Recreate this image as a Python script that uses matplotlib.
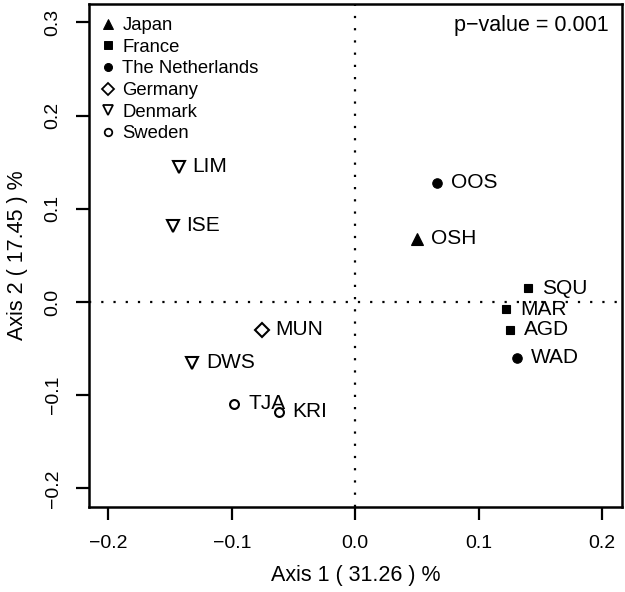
import matplotlib
matplotlib.use('Agg')
import matplotlib.pyplot as plt

plt.rcParams['font.family'] = ['Liberation Sans', 'DejaVu Sans']

# site coordinates on the first two PCoA axes
sites = ['LIM', 'ISE', 'MUN', 'DWS', 'TJA', 'KRI', 'OOS', 'OSH', 'SQU', 'MAR', 'AGD', 'WAD']
countries = ['Denmark', 'Denmark', 'Germany', 'Denmark', 'Sweden', 'Sweden',
             'The Netherlands', 'Japan', 'France', 'France', 'France', 'The Netherlands']
axis1 = [-0.143, -0.148, -0.076, -0.132, -0.098, -0.062, 0.066, 0.050, 0.140, 0.122, 0.125, 0.131]
axis2 = [0.145, 0.082, -0.030, -0.065, -0.109, -0.118, 0.128, 0.068, 0.015, -0.008, -0.030, -0.060]

legend_order = ['Japan', 'France', 'The Netherlands', 'Germany', 'Denmark', 'Sweden']
x_ticks = [-0.2, -0.1, 0.0, 0.1, 0.2]
y_ticks = [-0.2, -0.1, 0.0, 0.1, 0.2, 0.3]
var1, var2 = 31.26, 17.45
p_value = 0.001

# marker, filled, size
styles = {
    'Japan': ('^', True, 8.5),
    'France': ('s', True, 6.3),
    'The Netherlands': ('o', True, 6.8),
    'Germany': ('D', False, 7.2),
    'Denmark': ('v', False, 9),
    'Sweden': ('o', False, 6.4),
}


def marker_kw(c, scale=1.0):
    m, filled, ms = styles[c]
    return dict(marker=m, markersize=ms * scale, color='k',
                markerfacecolor='k' if filled else 'white',
                markeredgewidth=(0.8 if filled else 1.5) * scale, linestyle='none')


fig = plt.figure(figsize=(6.25, 5.92), dpi=100)
ax = fig.add_axes([0.142, 0.1436, 0.853, 0.85])

ax.axhline(0, color='k', linestyle=(0, (1, 4.5)), linewidth=1.6, zorder=1)
ax.axvline(0, color='k', linestyle=(0, (1, 4.5)), linewidth=1.6, zorder=1)

for name, c, x, y in zip(sites, countries, axis1, axis2):
    ax.plot(x, y, zorder=3, **marker_kw(c))
    ax.annotate(name, (x, y), xytext=(10, 0), textcoords='offset points',
                ha='left', va='center', fontsize=15, zorder=4)

handles = []
for c in legend_order:
    h, = ax.plot([], [], label=c, **marker_kw(c, 0.85))
    handles.append(h)
ax.legend(handles=handles, loc='upper left', bbox_to_anchor=(0.004, 0.988),
          frameon=False, fontsize=13.3, handletextpad=0.3, labelspacing=0.25,
          borderaxespad=0.2, borderpad=0.2, handlelength=1.0)

ax.text(0.975, 0.978, 'p\u2212value = {:.3f}'.format(p_value), transform=ax.transAxes,
        ha='right', va='top', fontsize=15.5)

ax.set_xlim(-0.216, 0.216)
ax.set_ylim(-0.22, 0.32)
ax.set_xticks(x_ticks)
ax.set_yticks(y_ticks)
ax.set_xticklabels(['{:.1f}'.format(t).replace('-', '\u2212') for t in x_ticks])
ax.set_yticklabels(['{:.1f}'.format(t).replace('-', '\u2212') for t in y_ticks],
                   rotation=90, va='center')
ax.tick_params(direction='out', length=9.5, width=1.6, labelsize=14)
ax.tick_params(axis='x', pad=11)
ax.tick_params(axis='y', pad=10)
for s in ax.spines.values():
    s.set_linewidth(1.8)

ax.set_xlabel('Axis 1 ( {:.2f} ) %'.format(var1), fontsize=15.5, labelpad=9)
ax.set_ylabel('Axis 2 ( {:.2f} ) %'.format(var2), fontsize=15.5, labelpad=12)

fig.savefig('out.png', dpi=100)
